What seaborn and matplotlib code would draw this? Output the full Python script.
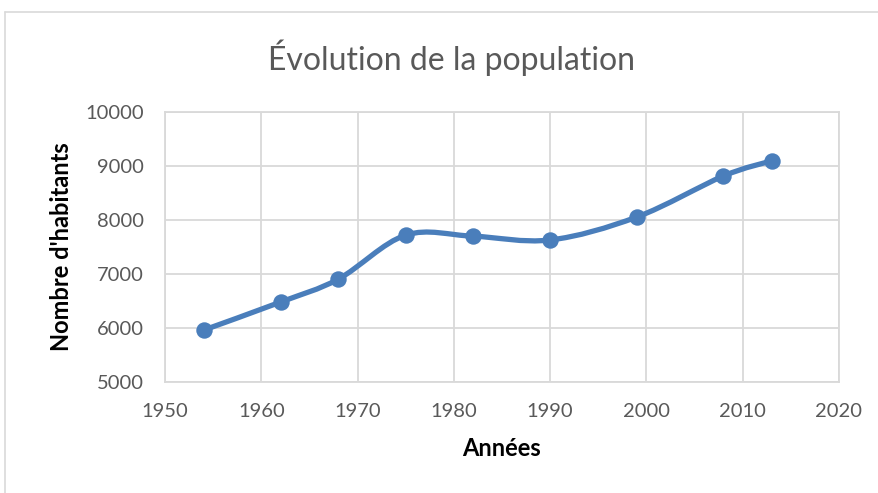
import matplotlib
matplotlib.use("Agg")
import matplotlib.pyplot as plt
import seaborn as sns
import pandas as pd
from matplotlib.path import Path
from matplotlib.patches import PathPatch
from matplotlib.lines import Line2D

# données
annees = [1954, 1962, 1968, 1975, 1982, 1990, 1999, 2008, 2013]
habitants = [5960, 6480, 6905, 7720, 7700, 7630, 8055, 8815, 9095]
x_ticks = [1950, 1960, 1970, 1980, 1990, 2000, 2010, 2020]
y_ticks = [5000, 6000, 7000, 8000, 9000, 10000]

df = pd.DataFrame({"Années": annees, "Habitants": habitants})

sns.set_theme(style="white")
plt.rcParams["font.family"] = ["Lato", "DejaVu Sans"]

bleu = "#4a7ebb"
gris = "#d9d9d9"
texte = "#595959"

fig = plt.figure(figsize=(8.79, 4.93), dpi=100)
ax = fig.add_axes([165 / 879, 1 - 382 / 493, 674 / 879, 270 / 493])

# courbe lissée (Bezier façon Catmull-Rom, comme le lissage d'Excel)
pts = list(zip(df["Années"], df["Habitants"]))
verts = [pts[0]]
codes = [Path.MOVETO]
for i in range(len(pts) - 1):
    p0 = pts[i - 1] if i > 0 else pts[i]
    p1 = pts[i]
    p2 = pts[i + 1]
    p3 = pts[i + 2] if i + 2 < len(pts) else pts[i + 1]
    c1 = (p1[0] + (p2[0] - p0[0]) / 6, p1[1] + (p2[1] - p0[1]) / 6)
    c2 = (p2[0] - (p3[0] - p1[0]) / 6, p2[1] - (p3[1] - p1[1]) / 6)
    verts += [c1, c2, p2]
    codes += [Path.CURVE4] * 3
ax.add_patch(PathPatch(Path(verts, codes), facecolor="none", edgecolor=bleu,
                       lw=3.8, capstyle="round", joinstyle="round", zorder=3))

sns.scatterplot(data=df, x="Années", y="Habitants", ax=ax, color=bleu,
                s=140, edgecolor=bleu, linewidth=0, zorder=4)

ax.set_xlim(1950, 2020)
ax.set_ylim(5000, 10000)
ax.set_xticks(x_ticks)
ax.set_yticks(y_ticks)
ax.grid(True, color=gris, lw=1.3)
ax.set_axisbelow(True)
for s in ax.spines.values():
    s.set_color(gris)
    s.set_linewidth(1.3)
ax.tick_params(axis="both", length=0, labelsize=14.5, colors=texte, pad=15)

# titre centré sur la zone du graphique (comme Excel), pas sur les axes
ax.set_title("Évolution de la population", fontsize=23, color=texte, pad=30,
             x=(452 - 165) / 674)
ax.set_xlabel("Années", fontsize=17, fontweight="bold", color="black", labelpad=12)
ax.set_ylabel("Nombre d'habitants", fontsize=17, fontweight="bold", color="black", labelpad=9)

# cadre du graphique
fig.add_artist(Line2D([5 / 879, 5 / 879], [0, 1 - 12 / 493], color=gris, lw=1.2,
                      transform=fig.transFigure))
fig.add_artist(Line2D([5 / 879, 1], [1 - 12 / 493, 1 - 12 / 493], color=gris, lw=1.2,
                      transform=fig.transFigure))

fig.savefig("out.png", dpi=100)
